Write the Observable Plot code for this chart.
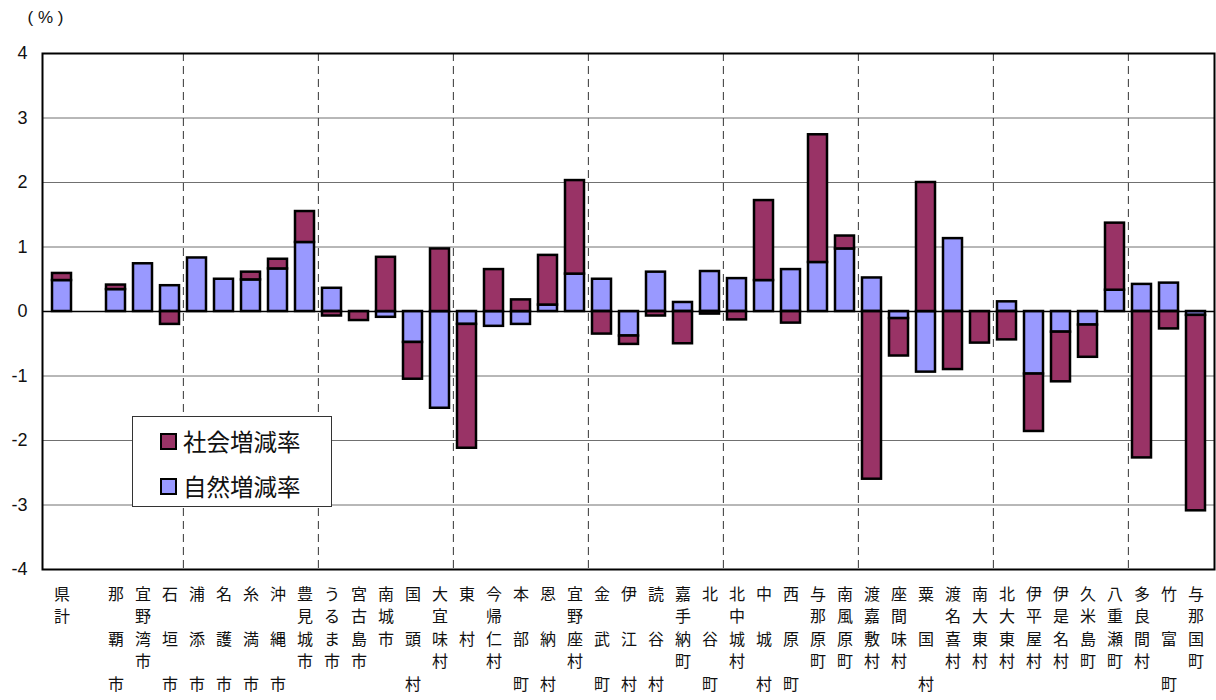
<!DOCTYPE html>
<html>
<head>
<meta charset="utf-8">
<script src="https://cdn.jsdelivr.net/npm/d3@7"></script>
<script src="https://cdn.jsdelivr.net/npm/@observablehq/plot@0.6"></script>
<style>
  html, body { margin: 0; padding: 0; background: #fff; }
  #wrap { position: relative; width: 1216px; height: 700px; }
  #legend {
    position: absolute; left: 132px; top: 416px; width: 200px; height: 91px;
    border: 1px solid #333; background: #fff; box-sizing: border-box;
    font-family: "Noto Sans CJK JP", sans-serif; font-size: 23.5px; color: #111;
  }
  .item { position: absolute; left: 27px; display: flex; align-items: center; height: 30px; }
  .sw { width: 13px; height: 13px; border: 2px solid #000; margin-right: 6px; }
</style>
</head>
<body>
<div id="wrap">
  <div id="chart"></div>
  <div id="legend"></div>
</div>
<script>
const categories = ["県計","那覇市","宜野湾市","石垣市","浦添市","名護市","糸満市","沖縄市","豊見城市","うるま市","宮古島市","南城市","国頭村","大宜味村","東村","今帰仁村","本部町","恩納村","宜野座村","金武町","伊江村","読谷村","嘉手納町","北谷町","北中城村","中城村","西原町","与那原町","南風原町","渡嘉敷村","座間味村","粟国村","渡名喜村","南大東村","北大東村","伊平屋村","伊是名村","久米島町","八重瀬町","多良間村","竹富町","与那国町"];
const tickLabels = ["県\n計","那\n\n覇\n\n市","宜\n野\n湾\n市","石\n\n垣\n\n市","浦\n\n添\n\n市","名\n\n護\n\n市","糸\n\n満\n\n市","沖\n\n縄\n\n市","豊\n見\n城\n市","う\nる\nま\n市","宮\n古\n島\n市","南\n城\n市","国\n\n頭\n\n村","大\n宜\n味\n村","東\n\n村","今\n帰\n仁\n村","本\n\n部\n\n町","恩\n\n納\n\n村","宜\n野\n座\n村","金\n\n武\n\n町","伊\n\n江\n\n村","読\n\n谷\n\n村","嘉\n手\n納\n町","北\n\n谷\n\n町","北\n中\n城\n村","中\n\n城\n\n村","西\n\n原\n\n町","与\n那\n原\n町","南\n風\n原\n町","渡\n嘉\n敷\n村","座\n間\n味\n村","粟\n\n国\n\n村","渡\n名\n喜\n村","南\n大\n東\n村","北\n大\n東\n村","伊\n平\n屋\n村","伊\n是\n名\n村","久\n米\n島\n町","八\n重\n瀬\n町","多\n良\n間\n村","竹\n\n富\n\n町","与\n那\n国\n町"];
const natural = [0.48,0.34,0.74,0.40,0.83,0.50,0.49,0.66,1.07,0.36,0.00,-0.09,-0.48,-1.50,-0.20,-0.23,-0.20,0.10,0.58,0.50,-0.38,0.61,0.14,0.62,0.51,0.48,0.65,0.76,0.97,0.52,-0.11,-0.94,1.13,0.00,0.15,-0.97,-0.32,-0.21,0.33,0.42,0.44,-0.06];
const social  = [0.11,0.07,0.00,-0.20,0.00,0.00,0.12,0.15,0.48,-0.07,-0.14,0.84,-0.57,0.97,-1.92,0.65,0.18,0.77,1.45,-0.35,-0.13,-0.07,-0.50,-0.04,-0.13,1.24,-0.18,1.98,0.20,-2.60,-0.58,2.00,-0.90,-0.49,-0.44,-0.89,-0.77,-0.50,1.04,-2.27,-0.27,-3.03];
const seriesNames = ["社会増減率","自然増減率"];
const seriesColors = ["#993366","#9999FF"];
const yTicks = [-4,-3,-2,-1,0,1,2,3,4];
const yLabel = "( % )";

const GAP = "_gap";
const domain = [categories[0], GAP, ...categories.slice(1)];
const labelOf = new Map(categories.map((c, i) => [c, tickLabels[i]]));
const data = categories.flatMap((c, i) => [
  {cat: c, series: seriesNames[1], value: natural[i]},
  {cat: c, series: seriesNames[0], value: social[i]}
]).filter(d => d.value !== 0);

const W = 1216, H = 700, mL = 42, mR = 2, mT = 53, mB = 131;
const step = (W - mL - mR) / domain.length;
const dashCats = domain.filter((d, i) => i > 0 && i % 5 === 0);

const chart = Plot.plot({
  width: W, height: H,
  marginLeft: mL, marginRight: mR, marginTop: mT, marginBottom: mB,
  style: {fontFamily: "'Noto Sans CJK JP', sans-serif", background: "#fff"},
  x: {type: "band", domain, padding: 0},
  y: {domain: [-4, 4]},
  color: {domain: seriesNames, range: seriesColors},
  marks: [
    Plot.gridY(yTicks.filter(d => d !== 0 && Math.abs(d) !== 4), {stroke: "#707070", strokeOpacity: 1}),
    Plot.ruleX(dashCats, {x: d => d, dx: -step / 2, stroke: "#333", strokeDasharray: "8,5", strokeWidth: 1}),
    Plot.barY(data, {x: "cat", y: "value", fill: "series", stroke: "#000", strokeWidth: 2.5, insetLeft: 4, insetRight: 4}),
    Plot.ruleY([0], {stroke: "#000", strokeWidth: 1.5}),
    Plot.axisY({ticks: yTicks, tickSize: 0, tickPadding: 15, tickFormat: d => String(d), fontSize: 18, fontFamily: "'Liberation Sans', Arial, sans-serif", label: null, fill: "#111"}),
    Plot.axisX({tickSize: 0, tickPadding: 14, tickFormat: d => labelOf.get(d) || "", fontSize: 16, lineHeight: 1.41, lineAnchor: "top", label: null, fill: "#111"}),
    Plot.text([yLabel], {text: d => d, frameAnchor: "top-left", textAnchor: "start", lineAnchor: "middle", dx: -15, dy: -36, fontSize: 17, fontFamily: "'Liberation Sans', Arial, sans-serif", fill: "#111"}),
    Plot.frame({stroke: "#000", strokeWidth: 2})
  ]
});
document.getElementById("chart").appendChild(chart);

const legend = document.getElementById("legend");
seriesNames.forEach((name, i) => {
  const item = document.createElement("div");
  item.className = "item";
  item.style.top = (9 + i * 45) + "px";
  const sw = document.createElement("div");
  sw.className = "sw";
  sw.style.background = seriesColors[i];
  const t = document.createElement("span");
  t.textContent = name;
  item.appendChild(sw); item.appendChild(t);
  legend.appendChild(item);
});
</script>
</body>
</html>
